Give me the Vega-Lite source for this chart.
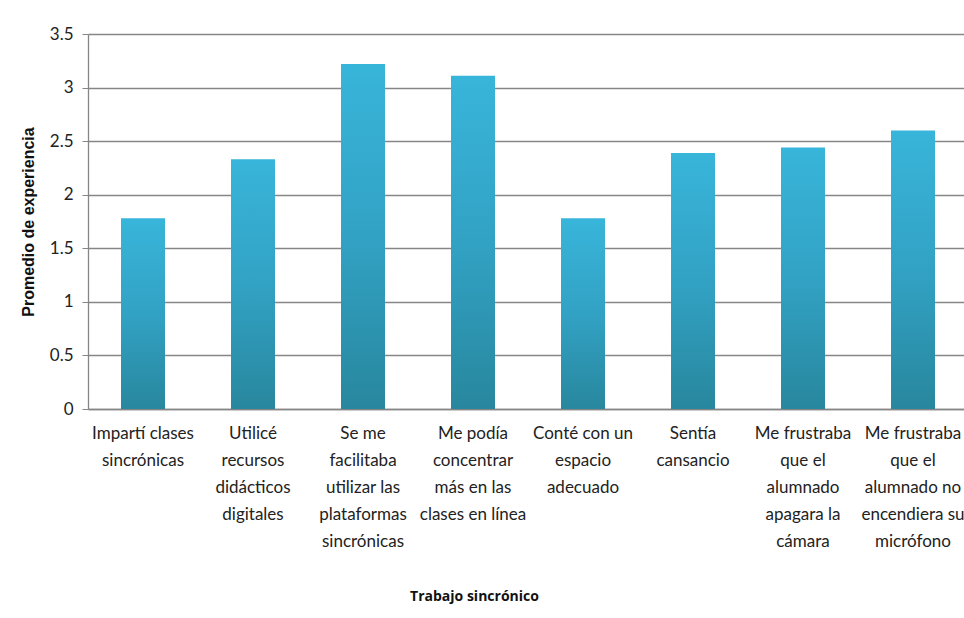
{
  "$schema": "https://vega.github.io/schema/vega-lite/v6.json",
  "width": 880,
  "height": 375,
  "autosize": "none",
  "padding": {"left": 88, "top": 34, "right": 0, "bottom": 209},
  "background": "white",
  "data": {
    "values": [
      {"item": "Impartí clases\nsincrónicas", "promedio": 1.78},
      {"item": "Utilicé\nrecursos\ndidácticos\ndigitales", "promedio": 2.33},
      {"item": "Se me\nfacilitaba\nutilizar las\nplataformas\nsincrónicas", "promedio": 3.22},
      {"item": "Me podía\nconcentrar\nmás en las\nclases en línea", "promedio": 3.11},
      {"item": "Conté con un\nespacio\nadecuado", "promedio": 1.78},
      {"item": "Sentía\ncansancio", "promedio": 2.39},
      {"item": "Me frustraba\nque el\nalumnado\napagara la\ncámara", "promedio": 2.44},
      {"item": "Me frustraba\nque el\nalumnado no\nencendiera su\nmicrófono", "promedio": 2.6}
    ]
  },
  "mark": {
    "type": "bar",
    "fill": {
      "gradient": "linear",
      "x1": 0, "y1": 0, "x2": 0, "y2": 1,
      "stops": [
        {"offset": 0, "color": "#38B5DA"},
        {"offset": 0.5, "color": "#32A2C4"},
        {"offset": 1, "color": "#28879E"}
      ]
    }
  },
  "encoding": {
    "x": {
      "field": "item",
      "type": "nominal",
      "sort": null,
      "scale": {"paddingInner": 0.6, "paddingOuter": 0.3},
      "axis": {
        "title": "Trabajo sincrónico",
        "titleFont": "Open Sans",
        "titleFontWeight": "bold",
        "titleFontSize": 14,
        "titleColor": "#111",
        "titleX": 386,
        "titleY": 180,
        "labelAngle": 0,
        "labelExpr": "split(datum.label, '\\n')",
        "labelFont": "Lato",
        "labelFontSize": 17,
        "labelLineHeight": 27,
        "labelColor": "#222",
        "labelPadding": 16,
        "labelLimit": 200,
        "ticks": false,
        "domainColor": "#868686",
        "domainWidth": 1.3
      }
    },
    "y": {
      "field": "promedio",
      "type": "quantitative",
      "scale": {"domain": [0, 3.5]},
      "axis": {
        "title": "Promedio de experiencia",
        "titleFont": "Liberation Sans",
        "titleFontWeight": "bold",
        "titleFontSize": 16,
        "titleColor": "#111",
        "titlePadding": 13,
        "values": [0, 0.5, 1, 1.5, 2, 2.5, 3, 3.5],
        "format": "~g",
        "labelFont": "Lato",
        "labelFontSize": 17,
        "labelColor": "#222",
        "labelPadding": 9,
        "tickSize": 6,
        "tickColor": "#868686",
        "domainColor": "#868686",
        "domainWidth": 1.3,
        "grid": true,
        "gridColor": "#868686",
        "gridWidth": 1.3
      }
    }
  },
  "config": {
    "view": {"stroke": null},
    "axis": {"labelFlush": false}
  }
}
